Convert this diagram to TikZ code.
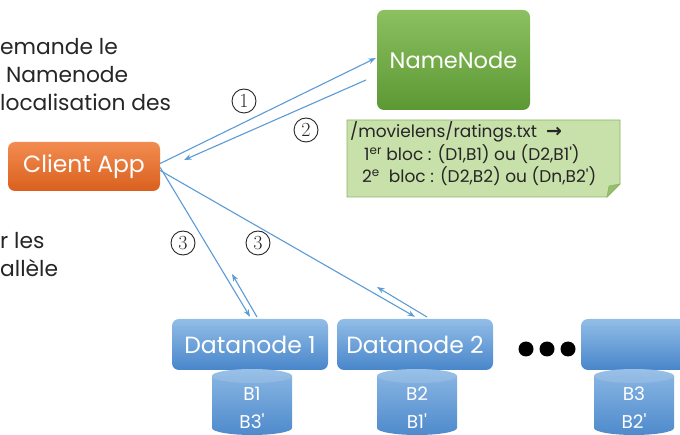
\documentclass[tikz,border=0pt]{standalone}
\usepackage{fontspec}
\newfontfamily\poppins{Poppins}
\newfontfamily\symfont{DejaVu Sans}
\usetikzlibrary{arrows.meta,calc}
\definecolor{arrowblue}{HTML}{5B9BD5}
\definecolor{txtgray}{HTML}{262626}
\tikzset{
  box/.style={rounded corners=7pt, minimum width=152pt, minimum height=49pt,
    text=white, font=\poppins\fontsize{23.5}{26}\selectfont, inner sep=0pt},
  clientbox/.style={box,
    top color={rgb,255:red,242;green,140;blue,80}, bottom color={rgb,255:red,218;green,96;blue,30}},
  namebox/.style={box, minimum width=153pt, minimum height=100pt, font=\poppins\fontsize{22.5}{26}\selectfont,
    top color={rgb,255:red,140;green,192;blue,96}, bottom color={rgb,255:red,92;green,152;blue,52}},
  databox/.style={box, minimum width=156pt, minimum height=51pt,
    top color={rgb,255:red,146;green,189;blue,231}, bottom color={rgb,255:red,72;green,134;blue,202}},
  cylfill/.style={top color={rgb,255:red,140;green,184;blue,228}, bottom color={rgb,255:red,78;green,138;blue,204}},
  link/.style={draw=arrowblue, line width=1.1pt, -{Stealth[length=7.5pt,width=5.5pt]}},
  stepnum/.style={circle, draw=txtgray, line width=0.9pt, inner sep=0pt, minimum size=24pt,
    font=\rmfamily\fontsize{20}{20}\selectfont, text=txtgray},
  sidetext/.style={anchor=west, inner sep=0pt, text=txtgray, font=\poppins\fontsize{21.8}{24}\selectfont},
  notetext/.style={anchor=west, inner sep=0pt, text=txtgray, font=\poppins\fontsize{17}{19}\selectfont},
  celltext/.style={text=white, font=\poppins\fontsize{18.5}{20}\selectfont, inner sep=0pt},
}
\newcommand{\datacyl}[1]{%
  \path[cylfill] ($(#1)+(-40,376)$) -- ($(#1)+(-40,428)$)
     arc[start angle=180, end angle=0, x radius=40, y radius=7]
     -- ($(#1)+(40,376)$)
     arc[start angle=0, end angle=-180, x radius=40, y radius=7] -- cycle;
  \fill[white, opacity=0.12] ($(#1)+(0,376)$) ellipse[x radius=40, y radius=7];
}
\begin{document}
\begin{tikzpicture}[x=1pt, y=-1pt]
  \useasboundingbox (0,0) rectangle (680,435);

  % explanatory text on the left
  \node[sidetext] (t1) at (0,47) {emande le};
  \node[sidetext] (t2) at (0,75) {\ Namenode};
  \node[sidetext] (t3) at (0,102) {localisation des};
  \node[sidetext] (t4) at (0,241) {r les};
  \node[sidetext] (t5) at (0,268) {allèle};

  % main boxes
  \node[clientbox] (client) at (84,166.5) {Client App};
  \node[namebox] (nn) at (453.5,60) {NameNode};
  \node[databox] (dn1) at (250,344.5) {Datanode 1};
  \node[databox] (dn2) at (415,344.5) {Datanode 2};
  \node[databox] (dn3) at (659,344.5) {};

  % block storage cylinders
  \coordinate (c1) at (252,0);
  \coordinate (c2) at (417,0);
  \coordinate (c3) at (634,0);
  \datacyl{c1}
  \datacyl{c2}
  \datacyl{c3}
  \node[celltext] (b1a) at (252,394) {B1};
  \node[celltext] (b1b) at (252,421) {B3'};
  \node[celltext] (b2a) at (417,394) {B2};
  \node[celltext] (b2b) at (417,421) {B1'};
  \node[celltext] (b3a) at (634,394) {B3};
  \node[celltext] (b3b) at (634,421) {B2'};

  % ellipsis dots
  \fill (526,349) circle (7.5pt);
  \fill (547,349) circle (7.5pt);
  \fill (568,349) circle (7.5pt);

  % metadata note with folded corner
  \coordinate (nA) at (347,120);
  \coordinate (nB) at (620,120);
  \coordinate (nC) at (620,184);
  \coordinate (nD) at (607,197);
  \coordinate (nE) at (347,197);
  \filldraw[fill={rgb,255:red,200;green,224;blue,170}, draw={rgb,255:red,138;green,182;blue,96}, line width=0.8pt]
    (nA) -- (nB) -- (nC) -- (nD) -- (nE) -- cycle;
  \filldraw[fill={rgb,255:red,150;green,190;blue,110}, draw={rgb,255:red,138;green,182;blue,96}, line width=0.6pt]
    (nC) -- (609,186) -- (nD) -- cycle;
  \node[notetext] (m1) at (350,132) {/movielens/ratings.txt\ \ {\symfont\fontsize{19}{19}\selectfont\bfseries →}};
  \node[notetext] (m2) at (364,154) {1\textsuperscript{er} bloc : (D1,B1) ou (D2,B1')};
  \node[notetext] (m3) at (362,176) {2\textsuperscript{e}\ \ bloc : (D2,B2) ou (Dn,B2')};

  % request / response arrows
  \coordinate (r2s) at (366,80);
  \coordinate (r2e) at (184,160);
  \draw[link] ($(client.east)+(0,-3)$) -- ($(nn.west)+(-1,-2)$);
  \draw[link] (r2s) -- (r2e);

  \draw[link] ($(client.east)+(0,1)$) -- ($(dn1.north)+(0,-2)$);
  \coordinate (d1s) at (257,317);
  \coordinate (d1e) at (232,274);
  \draw[link] (d1s) -- (d1e);

  \draw[link] ($(client.east)+(0,4)$) -- ($(dn2.north)+(0,-2)$);
  \coordinate (d2s) at (427,317);
  \coordinate (d2e) at (377,287);
  \draw[link] (d2s) -- (d2e);

  % step numbers
  \node[stepnum] (s1) at (244,101) {1};
  \node[stepnum] (s2) at (306,130) {2};
  \node[stepnum] (s3a) at (183,243) {3};
  \node[stepnum] (s3b) at (258,243) {3};
\end{tikzpicture}
\end{document}
